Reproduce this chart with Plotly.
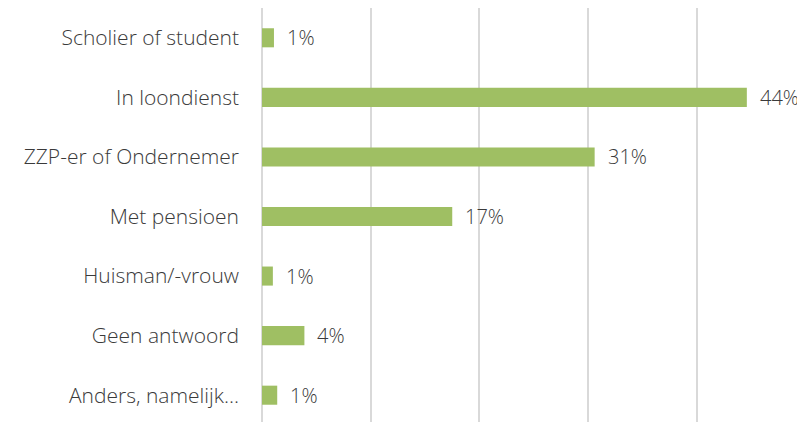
import plotly.graph_objects as go

categories = ["Scholier of student", "In loondienst", "ZZP-er of Ondernemer", "Met pensioen",
              "Huisman/-vrouw", "Geen antwoord", "Anders, namelijk..."]
values = [1.1, 44.6, 30.6, 17.5, 1.0, 3.9, 1.4]
labels = ["1%", "44%", "31%", "17%", "1%", "4%", "1%"]

FONT = dict(family="Open Sans", size=21, color="#3a3a3a", weight=300)
VFONT = dict(family="Open Sans", size=20, color="#3a3a3a", weight=300)

fig = go.Figure()
fig.add_trace(go.Bar(
    y=categories, x=values, orientation="h",
    marker=dict(color="#9fbf63", line=dict(width=0)),
    hoverinfo="skip",
))
for c, v, t in zip(categories, values, labels):
    fig.add_annotation(x=v, y=c, text=t, showarrow=False, xanchor="left",
                       xshift=11, font=VFONT)

fig.update_layout(
    width=797, height=414,
    margin=dict(l=254, r=0, t=0, b=0),
    plot_bgcolor="white", paper_bgcolor="white",
    bargap=0.68, showlegend=False,
    font=FONT,
)
fig.update_xaxes(range=[0, 49.95], dtick=10, showticklabels=False,
                 showgrid=True, gridcolor="#d9d9d9", gridwidth=2,
                 zeroline=True, zerolinecolor="#d9d9d9", zerolinewidth=2,
                 showline=False)
fig.update_yaxes(range=[6.45, -0.5], showgrid=False, zeroline=False,
                 showline=False, ticks="", ticklabelstandoff=22, tickfont=FONT)
fig.write_html("out.html")
